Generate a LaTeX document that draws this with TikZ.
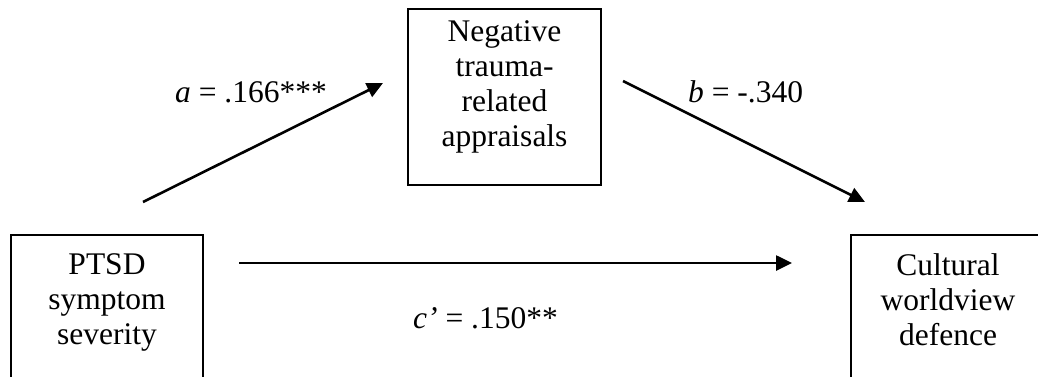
\documentclass[tikz,border=0pt]{standalone}
\usepackage{fontspec}
\setmainfont{Liberation Serif}
\usetikzlibrary{arrows.meta}
\begin{document}
\begin{tikzpicture}[x=1pt,y=-1pt,
  txt/.style={font=\fontsize{31.5}{35}\selectfont},
  box/.style={txt, draw, line width=1.4pt, inner sep=0pt},
  lbl/.style={txt, inner sep=0pt, anchor=base west},
  arr/.style={line width=2.6pt, -{Triangle[length=16pt,width=15pt]}}]
\useasboundingbox (0,0) rectangle (1038,376);
\clip (0,0) rectangle (1038,376);
% boxes
\node[box] (p) at (107,309) {\parbox[c][148pt][t]{192pt}{\centering\vspace*{19pt}PTSD\\symptom\\severity}};
\node[box] (m) at (504.5,97) {\parbox[c][176pt][t]{193pt}{\centering\vspace*{11.5pt}Negative\\trauma-\\related\\appraisals}};
\node[box] (c) at (948,309) {\parbox[c][148pt][t]{194pt}{\centering\vspace*{18.5pt}Cultural\\worldview\\defence}};
% connector end points
\coordinate (a1) at (143,202);
\coordinate (a2) at (383,83);
\coordinate (b1) at (623,81);
\coordinate (b2) at (865,202);
\coordinate (c1) at (239,263);
\coordinate (c2) at (792,263);
\draw[arr] (a1) -- (a2);
\draw[arr] (b1) -- (b2);
\draw[arr] (c1) -- (c2);
% labels
\node[lbl] (la) at (175,102) {\textit{a} = .166***};
\node[lbl] (lb) at (688,102) {\textit{b} = -.340};
\node[lbl] (lc) at (413,328) {\textit{c’} = .150**};
\end{tikzpicture}
\end{document}
